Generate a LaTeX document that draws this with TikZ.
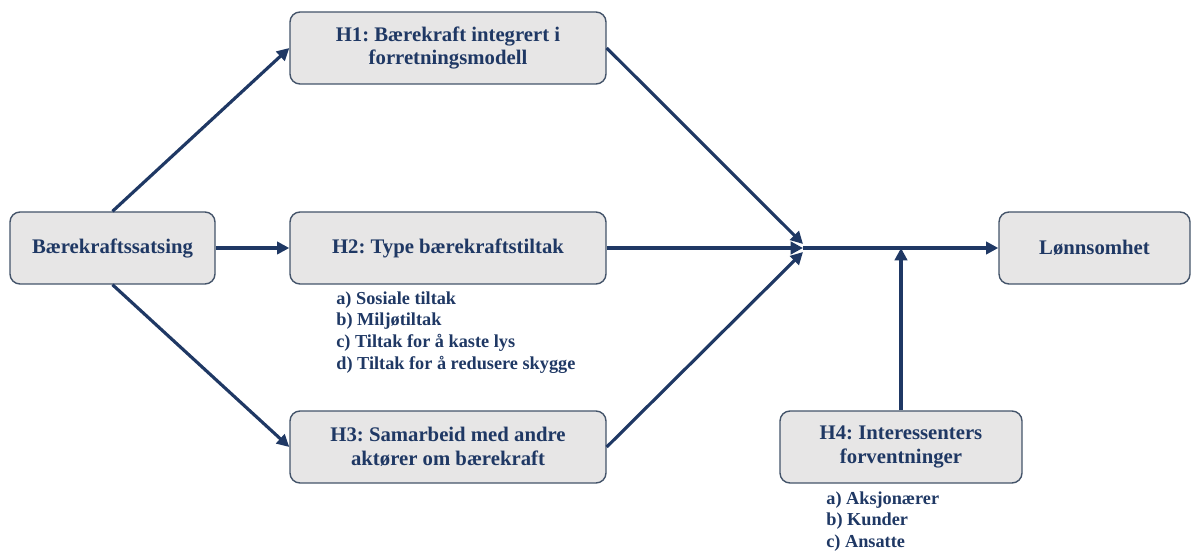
\documentclass[tikz,border=0pt]{standalone}
\usepackage{fontspec}
\setmainfont{Liberation Serif}
\usetikzlibrary{arrows.meta}
\definecolor{navy}{HTML}{1F3864}
\definecolor{boxfill}{HTML}{E7E6E6}
\definecolor{boxline}{HTML}{44546A}
\frenchspacing

\begin{document}
\begin{tikzpicture}[x=0.02cm, y=-0.02cm,
 every node/.style={font=\bfseries, text=navy},
 hbox/.style={draw=boxline, line width=0.8pt, fill=boxfill, rounded corners=0.2cm,
  align=center, font=\bfseries\fontsize{11.8}{13.6}\selectfont, inner sep=0pt},
 sublist/.style={align=left, anchor=north west, inner sep=0pt,
  font=\bfseries\fontsize{10.4}{12.5}\selectfont},
 link/.style={draw=navy, line width=1.8pt, -{Triangle[length=7pt, width=7pt]}}]
\useasboundingbox (0,0) rectangle (1192,553);
% boxes
\node[hbox, minimum width=205*0.02cm, minimum height=72*0.02cm] (satsing) at (112.5,248) {B\ae rekraftssatsing};
\node[hbox, minimum width=316*0.02cm, minimum height=72*0.02cm] (h1) at (448,48) {H1: B\ae rekraft integrert i\\forretningsmodell};
\node[hbox, minimum width=316*0.02cm, minimum height=72*0.02cm] (h2) at (448,248) {H2: Type b\ae rekraftstiltak};
\node[hbox, minimum width=316*0.02cm, minimum height=72*0.02cm] (h3) at (448,447) {H3: Samarbeid med andre\\akt\o rer om b\ae rekraft};
\node[hbox, minimum width=242*0.02cm, minimum height=72*0.02cm] (h4) at (901,447) {H4: Interessenters\\forventninger};
\node[hbox, minimum width=191*0.02cm, minimum height=72*0.02cm] (lonn) at (1094.5,248) {L\o nnsomhet};
% lists
\node[sublist] (list2) at (336,291) {a) Sosiale tiltak\\b) Milj\o tiltak\\c) Tiltak for \aa{} kaste lys\\d) Tiltak for \aa{} redusere skygge};
\node[sublist] (list4) at (826,491) {a) Aksjon\ae rer\\b) Kunder\\c) Ansatte};
% arrows
\coordinate (hub) at (803,248);
\coordinate (hubtop) at (803,244);
\coordinate (hubbot) at (803,252);
\coordinate (mid) at (901,248);
\draw[link] (satsing.north) -- (h1.west);
\draw[link] (satsing.east) -- (h2.west);
\draw[link] (satsing.south) -- (h3.west);
\draw[link] (h1.east) -- (hubtop);
\draw[link] (h2.east) -- (hub);
\draw[link] (h3.east) -- (hubbot);
\draw[link] (hub) -- (lonn.west);
\draw[link] (h4.north) -- (mid);
\end{tikzpicture}
\end{document}
